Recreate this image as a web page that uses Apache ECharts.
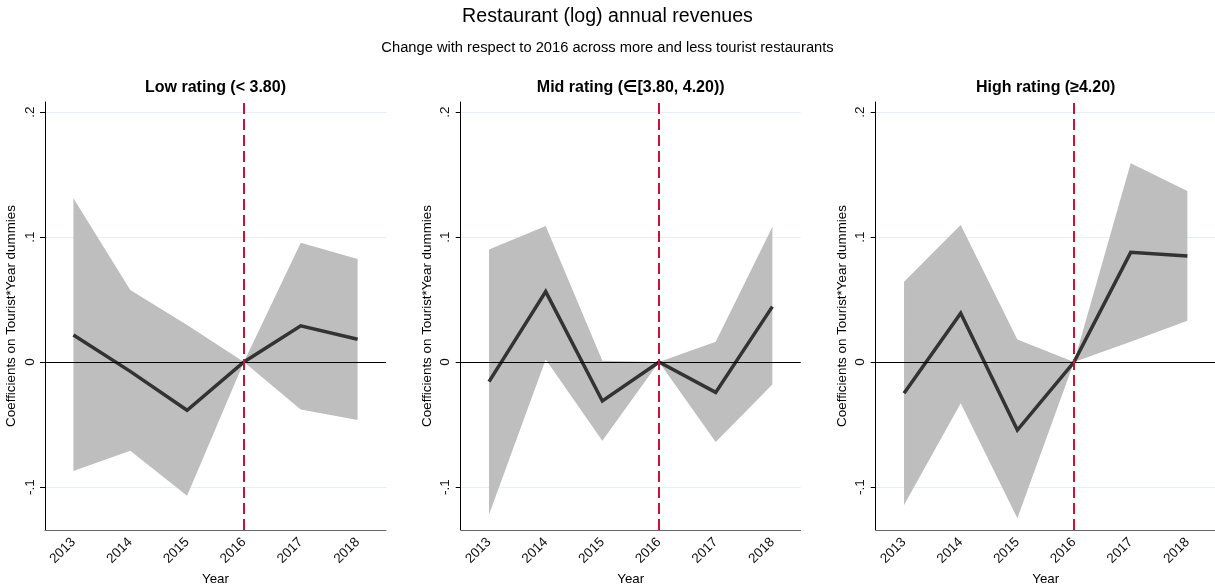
<!DOCTYPE html>
<html>
<head>
<meta charset="utf-8">
<script src="https://cdn.jsdelivr.net/npm/echarts@6/dist/echarts.min.js"></script>
<style>
html,body{margin:0;padding:0;background:#fff;}
#chart{width:1215px;height:584px;}
</style>
</head>
<body>
<div id="chart"></div>
<script>
// ---- Data ----
const years = ['2013', '2014', '2015', '2016', '2017', '2018'];
const panelTitles = ['Low rating (< 3.80)', 'Mid rating (\u2208[3.80, 4.20))', 'High rating (\u22654.20)'];

const lowCoef  = [0.0216, -0.0075, -0.0386, 0, 0.0290, 0.0182];
const lowUpper = [0.131, 0.0576, 0.0296, 0, 0.0955, 0.0824];
const lowLower = [-0.0872, -0.0710, -0.1070, 0, -0.0379, -0.0464];

const midCoef  = [-0.0157, 0.0563, -0.0312, 0, -0.0243, 0.0443];
const midUpper = [0.0901, 0.1088, 0.0010, 0, 0.0163, 0.1080];
const midLower = [-0.1220, 0.0020, -0.0630, 0, -0.0640, -0.0180];

const highCoef  = [-0.0250, 0.0390, -0.0544, 0, 0.0877, 0.0848];
const highUpper = [0.0643, 0.1096, 0.0181, 0, 0.1590, 0.1368];
const highLower = [-0.1144, -0.0330, -0.1250, 0, 0.0163, 0.0330];

const yTickValues = [-0.1, 0, 0.1, 0.2];
const yTickLabels = ['-.1', '0', '.1', '.2'];
const refYear = '2016';

// ---- Chart ----
const FONT = '"Liberation Sans", Arial, Helvetica, "DejaVu Sans", sans-serif';
const panels = [
  {coef: lowCoef, up: lowUpper, lo: lowLower},
  {coef: midCoef, up: midUpper, lo: midLower},
  {coef: highCoef, up: highUpper, lo: highLower}
];
const gridDefs = [
  {left: 45, top: 102, width: 341, height: 428},
  {left: 460.7, top: 102, width: 340, height: 428},
  {left: 875.7, top: 102, width: 340, height: 428}
];

function yFmt(v) {
  for (let i = 0; i < yTickValues.length; i++) {
    if (Math.abs(v - yTickValues[i]) < 1e-9) return yTickLabels[i];
  }
  return '';
}

const option = {
  animation: false,
  backgroundColor: '#fff',
  textStyle: {fontFamily: FONT},
  title: [
    {text: 'Restaurant (log) annual revenues', left: 'center', top: 7, padding: 0,
     textStyle: {fontSize: 19.6, fontWeight: 'normal', color: '#000', fontFamily: FONT}},
    {text: 'Change with respect to 2016 across more and less tourist restaurants', left: 'center', top: 40, padding: 0,
     textStyle: {fontSize: 14.7, fontWeight: 'normal', color: '#000', fontFamily: FONT}}
  ],
  grid: [],
  xAxis: [],
  yAxis: [],
  series: []
};

panels.forEach((p, k) => {
  const g = gridDefs[k];
  option.title.push({
    text: panelTitles[k], left: g.left + g.width / 2, textAlign: 'center', top: 80, padding: 0,
    textStyle: {fontSize: 16, fontWeight: 'bold', color: '#000', fontFamily: FONT}
  });
  option.grid.push(Object.assign({outerBoundsMode: 'none', containLabel: false}, g));
  option.xAxis.push({
    type: 'category', gridIndex: k, data: years, boundaryGap: true,
    name: 'Year', nameLocation: 'middle', nameGap: 37,
    nameTextStyle: {fontSize: 13.3, color: '#000', fontFamily: FONT},
    axisLine: {onZero: false, lineStyle: {color: '#666', width: 1}},
    axisTick: {alignWithLabel: true, length: 6, lineStyle: {color: '#333'}},
    axisLabel: {rotate: 45, fontSize: 13.5, color: '#111', margin: 10, interval: 0, fontFamily: FONT},
    splitLine: {show: false}
  });
  option.yAxis.push({
    type: 'value', gridIndex: k, min: -0.1344, max: 0.208,
    name: 'Coefficients on Tourist*Year dummies', nameLocation: 'middle', nameGap: 27,
    nameTextStyle: {fontSize: 13.4, color: '#000', fontFamily: FONT},
    axisLine: {show: true, onZero: false, lineStyle: {color: '#000', width: 1}},
    axisTick: {show: true, length: 5, customValues: yTickValues, lineStyle: {color: '#000'}},
    axisLabel: {customValues: yTickValues, formatter: yFmt, rotate: 90, fontSize: 13.5, color: '#111', margin: 8, fontFamily: FONT},
    splitLine: {show: true, lineStyle: {color: '#e6eff1', width: 1}}
  });
  // confidence band
  option.series.push({
    type: 'custom', xAxisIndex: k, yAxisIndex: k, z: 2, silent: true,
    data: years.map((y, i) => [i, p.lo[i], p.up[i]]),
    encode: {x: 0, y: [1, 2]},
    renderItem: (params, api) => {
      if (params.dataIndex !== 0) return null;
      const pts = [];
      for (let i = 0; i < years.length; i++) pts.push(api.coord([i, p.up[i]]));
      for (let i = years.length - 1; i >= 0; i--) pts.push(api.coord([i, p.lo[i]]));
      return {type: 'polygon', shape: {points: pts}, style: {fill: '#bebebe', stroke: null}};
    }
  });
  // coefficient line
  option.series.push({
    type: 'line', xAxisIndex: k, yAxisIndex: k, z: 3, silent: true,
    data: p.coef, symbol: 'none',
    lineStyle: {color: '#333333', width: 3.5, join: 'miter'},
    markLine: {
      silent: true, symbol: 'none', animation: false,
      label: {show: false},
      data: [
        {yAxis: 0, lineStyle: {color: '#000', width: 1.2, type: 'solid'}},
        {xAxis: refYear, lineStyle: {color: '#d0103c', width: 2, type: [11, 5]}}
      ]
    }
  });
});

const chart = echarts.init(document.getElementById('chart'), null, {renderer: 'canvas'});
chart.setOption(option);
</script>
</body>
</html>
